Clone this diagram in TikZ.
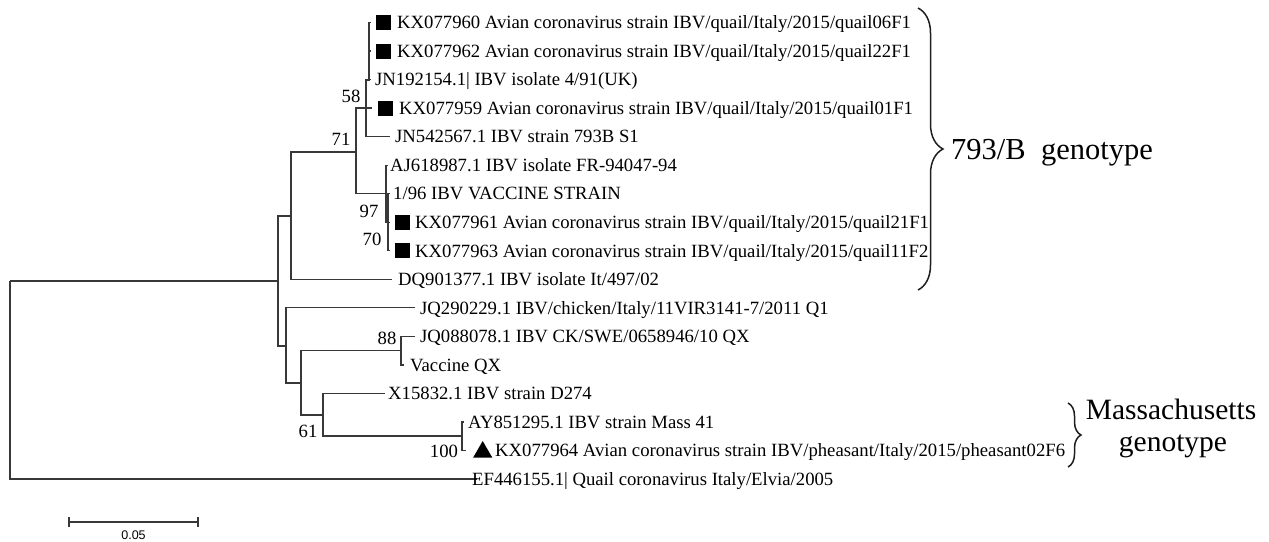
\documentclass[tikz,border=0pt]{standalone}
\usepackage{fontspec}
\setmainfont{Liberation Serif}
\newfontfamily\sansfnt{Liberation Sans}
\usetikzlibrary{shapes.geometric,decorations.pathreplacing}
\begin{document}
\begin{tikzpicture}[x=1pt,y=-1pt,
  br/.style={draw=black!78, line width=1.2pt},
  leaf/.style={anchor=base west, inner sep=0pt, font=\fontsize{18.7}{22}\selectfont},
  boot/.style={inner sep=0pt, font=\fontsize{18.7}{22}\selectfont},
  sq/.style={fill=black, minimum size=15pt, inner sep=0pt},
  tri/.style={regular polygon, regular polygon sides=3, fill=black, minimum size=22pt, inner sep=0pt},
  gbrace/.style={decorate, decoration={brace, amplitude=#1}, line width=1.5pt, draw=black!88},
  big/.style={inner sep=0pt, font=\fontsize{30.5}{34}\selectfont},
  bigm/.style={inner sep=0pt, font=\fontsize{29.5}{33}\selectfont}]
\useasboundingbox (0,0) rectangle (1269,541);
% internal nodes
\coordinate (R) at (10,281);
\coordinate (N1) at (278,281);
\coordinate (N2) at (291,216);
\coordinate (N3) at (356,152);
\coordinate (N4) at (366,108);
\coordinate (N4a) at (369,80);
\coordinate (N6) at (386,193.7);
\coordinate (N7) at (388,222.2);
\coordinate (N5) at (286,346);
\coordinate (N8) at (301,383);
\coordinate (N9) at (401,350.6);
\coordinate (N10) at (323,415);
\coordinate (N11) at (462,436);
% leaf tips
\coordinate (t0) at (371,22.5);
\coordinate (t1) at (371,51);
\coordinate (t2) at (371,79.5);
\coordinate (t3) at (372,108);
\coordinate (t4) at (390,136.6);
\coordinate (t5) at (388,165.2);
\coordinate (t6) at (390,193.7);
\coordinate (t7) at (390,222.2);
\coordinate (t8) at (390,250.8);
\coordinate (t9) at (392,279.3);
\coordinate (t10) at (415,307.8);
\coordinate (t11) at (415,336.3);
\coordinate (t12) at (404,364.9);
\coordinate (t13) at (385,393.4);
\coordinate (t14) at (464,421.9);
\coordinate (t15) at (466,450.5);
\coordinate (t16) at (477,479);
% branches
\draw[br] (R) |- (N1);
\draw[br] (R) |- (t16);
\draw[br] (N1) |- (N2);
\draw[br] (N1) |- (N5);
\draw[br] (N2) |- (N3);
\draw[br] (N2) |- (t9);
\draw[br] (N3) |- (N4);
\draw[br] (N3) |- (N6);
\draw[br] (N4) |- (N4a);
\draw[br] (N4) |- (t3);
\draw[br] (N4) |- (t4);
\draw[br] (N4a) |- (t0);
\draw[br] (N4a) |- (t1);
\draw[br] (N4a) |- (t2);
\draw[br] (N6) |- (t5);
\draw[br] (N6) |- (N7);
\draw[br] (N7) |- (t6);
\draw[br] (N7) |- (t7);
\draw[br] (N7) |- (t8);
\draw[br] (N5) |- (t10);
\draw[br] (N5) |- (N8);
\draw[br] (N8) |- (N9);
\draw[br] (N8) |- (N10);
\draw[br] (N9) |- (t11);
\draw[br] (N9) |- (t12);
\draw[br] (N10) |- (t13);
\draw[br] (N10) |- (N11);
\draw[br] (N11) |- (t14);
\draw[br] (N11) |- (t15);
% markers
\node[sq] (m0) at (383.5,22.5) {};
\node[sq] (m1) at (383.5,51) {};
\node[sq] (m3) at (385.5,108) {};
\node[sq] (m7) at (402.5,222.2) {};
\node[sq] (m8) at (402.5,250.8) {};
\node[tri] (m15) at (482.7,452) {};
% leaf labels
\node[leaf] (l0) at (397,28.7) {KX077960 Avian coronavirus strain IBV/quail/Italy/2015/quail06F1};
\node[leaf] (l1) at (397,57.2) {KX077962 Avian coronavirus strain IBV/quail/Italy/2015/quail22F1};
\node[leaf] (l2) at (375,85.7) {JN192154.1| IBV isolate 4/91(UK)};
\node[leaf] (l3) at (399,114.2) {KX077959 Avian coronavirus strain IBV/quail/Italy/2015/quail01F1};
\node[leaf] (l4) at (395,142.8) {JN542567.1 IBV strain 793B S1};
\node[leaf] (l5) at (390,171.4) {AJ618987.1 IBV isolate FR-94047-94};
\node[leaf] (l6) at (393,199.9) {1/96 IBV VACCINE STRAIN};
\node[leaf] (l7) at (415,228.4) {KX077961 Avian coronavirus strain IBV/quail/Italy/2015/quail21F1};
\node[leaf] (l8) at (415,257) {KX077963 Avian coronavirus strain IBV/quail/Italy/2015/quail11F2};
\node[leaf] (l9) at (398,285.5) {DQ901377.1 IBV isolate It/497/02};
\node[leaf] (l10) at (420,314) {JQ290229.1 IBV/chicken/Italy/11VIR3141-7/2011 Q1};
\node[leaf] (l11) at (420,342.5) {JQ088078.1 IBV CK/SWE/0658946/10 QX};
\node[leaf] (l12) at (410,371.1) {Vaccine QX};
\node[leaf] (l13) at (388,399.6) {X15832.1 IBV strain D274};
\node[leaf] (l14) at (468,428.1) {AY851295.1 IBV strain Mass 41};
\node[leaf] (l15) at (495,456.7) {KX077964 Avian coronavirus strain IBV/pheasant/Italy/2015/pheasant02F6};
\node[leaf] (l16) at (472,485.2) {EF446155.1| Quail coronavirus Italy/Elvia/2005};
% bootstrap values
\node[boot] (b58) at (351,96) {58};
\node[boot] (b71) at (341,139) {71};
\node[boot] (b97) at (369,211) {97};
\node[boot] (b70) at (372,239) {70};
\node[boot] (b88) at (387,338) {88};
\node[boot] (b61) at (308,431) {61};
\node[boot] (b100) at (444,451) {100};
% braces and group labels
\coordinate (bA1) at (918,8);
\coordinate (bA2) at (918,290);
\draw[gbrace=25pt] (bA1) -- (bA2);
\node[big, anchor=base west] (g1) at (951,159) {793/B\ \ genotype};
\coordinate (bB1) at (1068,403);
\coordinate (bB2) at (1068,467);
\draw[gbrace=13pt] (bB1) -- (bB2);
\node[bigm, anchor=base] (g2) at (1171,419) {Massachusetts};
\node[bigm, anchor=base] (g3) at (1173,451) {genotype};
% scale bar
\coordinate (s1) at (69,522);
\coordinate (s2) at (198,522);
\draw[br, line width=1.1pt] (s1) -- (s2);
\draw[br, line width=1.1pt] ([yshift=5pt]s1) -- ([yshift=-5pt]s1);
\draw[br, line width=1.1pt] ([yshift=5pt]s2) -- ([yshift=-5pt]s2);
\node[inner sep=0pt, font=\sansfnt\fontsize{12.5}{14}\selectfont] (sl) at (133.5,535) {0.05};
\end{tikzpicture}
\end{document}
